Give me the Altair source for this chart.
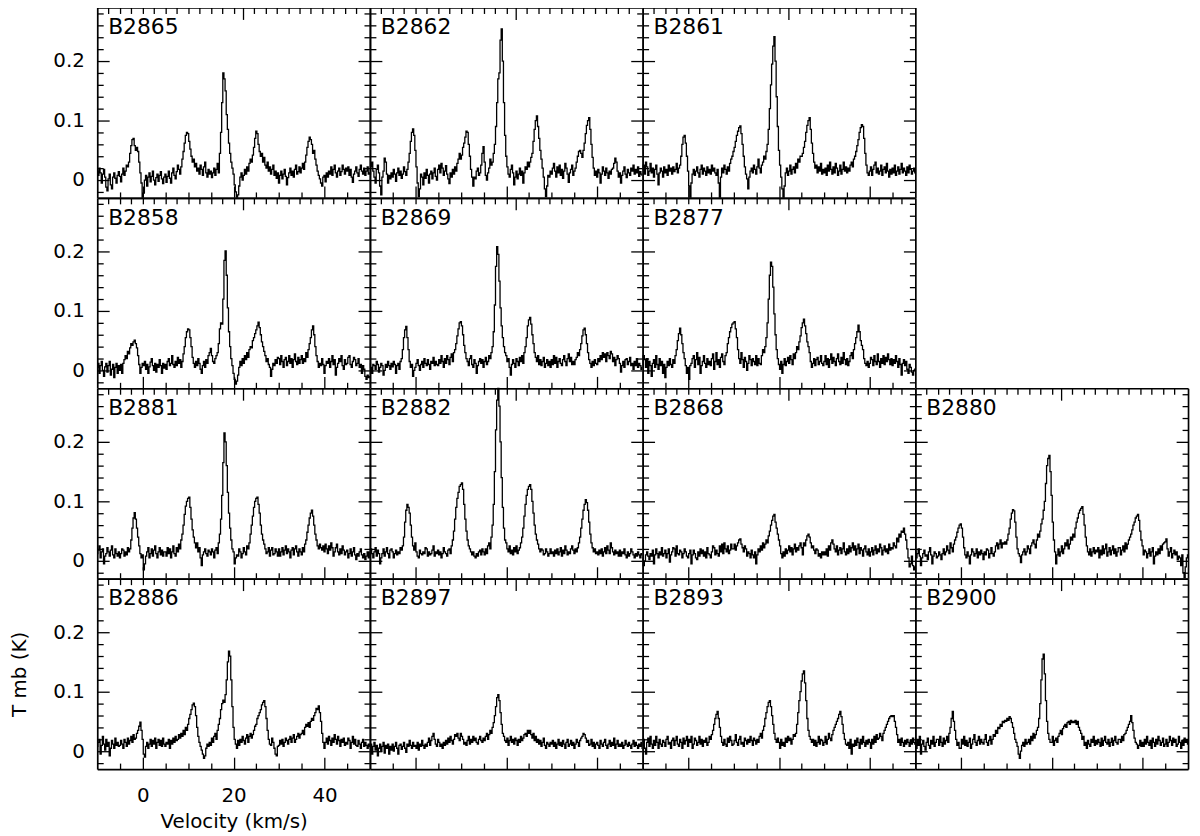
import altair as alt
import pandas as pd

# ---------------- layout of the panels ----------------
PANEL_ROWS = [
    ["B2865", "B2862", "B2861", None],
    ["B2858", "B2869", "B2877", None],
    ["B2881", "B2882", "B2868", "B2880"],
    ["B2886", "B2897", "B2893", "B2900"],
]

# channel grid (km/s): first channel and channel width
V_START = -10.0
V_STEP = 0.25

X_DOMAIN = [-10, 50]
Y_DOMAIN = [-0.03, 0.29]
X_MAJOR = [0, 20, 40]
X_MINOR = [-5, 5, 10, 15, 25, 30, 35, 45]
TOP_MAJOR = [22]
TOP_MINOR = [-7.5, -5, -2.5, 0, 2.5, 5, 7.5, 10, 12.5, 15, 17.5, 20, 24.5, 27, 29.5, 32,
             34.5, 37, 39.5, 42, 44.5, 47]
Y_MAJOR = [0, 0.1, 0.2]
Y_MINOR = [-0.02, 0.02, 0.04, 0.06, 0.08, 0.12, 0.14, 0.16, 0.18, 0.22, 0.24, 0.26, 0.28]
X_LABELS = [0, 20, 40]

# ---------------- spectra: T_mb in mK, one value per 0.25 km/s channel, -10 .. 50 km/s ----------------
B2865 = [15, 8, 20, 12, -5, 10, 18, 5, -12, -18, 2, 10, -8, -15, 5, 12, 3, -5, 8, 14,
         6, -3, 10, 20, 8, 15, 25, 22, 30, 45, 58, 68, 70, 58, 50, 55, 48, 30, 12, -5,
         -30, -22, 0, 8, -10, 5, 12, -3, 6, 15, 0, -8, 4, 10, -2, 8, 14, 2, -6, 5,
         10, -4, 6, 15, 3, -5, 12, 20, 8, 2, 14, 25, 18, 10, 22, 35, 48, 62, 75, 80,
         78, 65, 52, 40, 30, 35, 22, 28, 15, 20, 10, 25, 18, 8, 22, 30, 12, 5, 18, 10,
         15, 4, 12, 20, 8, 18, 28, 12, 45, 80, 130, 180, 170, 150, 110, 85, 62, 45, 30, 20,
         10, -8, -20, -30, -25, -10, 5, 12, 0, 8, 18, 10, 22, 15, 28, 35, 30, 42, 55, 70,
         82, 78, 60, 48, 40, 45, 30, 38, 25, 20, 30, 15, 22, 10, 18, 25, 8, 15, 3, 12,
         -5, 8, 15, 2, 10, 18, 6, -8, 4, 12, 20, 8, 15, 5, 18, 25, 10, 14, 22, 12,
         20, 28, 18, 30, 42, 55, 65, 72, 68, 60, 45, 50, 35, 25, 15, 8, 2, -5, -10, 5,
         8, -3, 12, 5, 15, 10, 22, 8, 18, 25, 12, 5, 15, 20, 8, 14, 25, 18, 10, 20,
         15, 22, 8, 18, 5, -4, 10, 15, 22, 12, 6, 18, 25, 15, 10, 20, 8, 15, 22, 10,
         12]
B2862 = [10, 22, 30, 15, 5, -5, 18, 25, 12, -10, -25, 5, 15, 37, 30, 10, -5, 8, 2, 12,
         5, 18, 10, -2, 12, 20, 8, 15, 3, 10, 22, 14, 8, 18, 30, 45, 65, 80, 86, 75,
         50, 22, -5, -28, -15, 10, 5, -8, 12, 3, 18, 8, -5, 10, 15, 2, 12, 20, 6, 0,
         18, 25, 12, 28, 20, 8, 15, 24, 10, 2, -6, 12, 5, 18, 10, 22, 15, 28, 35, 45,
         35, 42, 55, 62, 72, 82, 80, 60, 40, 18, 5, -10, 5, 2, 15, 20, 8, 12, 25, 45,
         56, 30, 8, 0, 12, 20, 35, 25, 30, 45, 60, 90, 130, 170, 180, 235, 254, 200, 130, 75,
         40, 22, 10, 5, 18, 25, 12, -8, 5, 15, 2, 10, 20, 8, 15, -5, 12, 22, 18, 30,
         22, 30, 38, 45, 65, 85, 100, 108, 90, 70, 50, 35, 20, 5, -15, -28, -10, 8, 5, 15,
         10, 20, 28, 15, 5, 22, 12, 25, 8, 18, 3, 15, 28, 20, 10, -4, 12, 18, 25, 8,
         15, 20, 30, 40, 48, 50, 45, 38, 50, 62, 78, 92, 100, 105, 85, 60, 38, 20, 8, 15,
         5, 18, 12, -5, 10, 22, 15, 8, 20, 12, 3, 15, 10, 18, 20, 28, 37, 30, 15, 5,
         12, -5, 8, 15, 22, 10, 4, 18, 12, 8, 20, 15, 25, 10, 18, 12, 22, 6, 14, 10,
         8]
B2861 = [18, 25, 10, 30, 22, 8, 15, 28, 12, 20, 5, 18, 25, 10, -8, 12, 20, 15, 5, 22,
         12, 18, 8, 25, 15, 20, 10, 22, 14, 18, 28, 12, 20, 25, 40, 60, 72, 75, 62, 40,
         15, -10, -30, -5, 10, 18, 8, 15, 22, 12, 5, 18, 25, 10, 20, 15, 8, 22, 12, 18,
         10, 25, 15, 20, 12, 8, 18, -5, -30, 5, 20, 12, 25, 18, 10, 22, 15, 28, 35, 40,
         48, 55, 65, 75, 82, 88, 91, 78, 60, 40, 22, 10, 2, -15, 5, 15, 20, 12, 25, 18,
         10, 22, 35, 20, 12, 25, 30, 40, 35, 48, 60, 85, 120, 160, 195, 225, 241, 200, 140, 90,
         50, 25, 5, -15, -30, -10, 12, 20, 8, 15, 25, 10, 18, 22, 12, 28, 20, 35, 30, 40,
         40, 45, 55, 65, 80, 92, 100, 105, 85, 62, 45, 30, 20, 25, 12, 22, 15, 28, 10, 18,
         12, 20, 8, 25, 15, 30, 18, 10, 22, 12, 28, 20, 8, 15, 25, 10, 18, 30, 15, 22,
         12, 20, 15, 25, 30, 22, 35, 40, 48, 58, 68, 80, 88, 93, 90, 70, 45, 25, 12, 8,
         15, 22, 8, 18, 25, 30, 12, 20, 10, 15, 25, 8, 18, 22, 12, 28, 15, 5, 18, 10,
         20, 12, 25, 8, 15, 22, 10, 18, 28, 12, 20, 15, 8, 22, 12, 25, 18, 10, 15, 20,
         12]
B2858 = [5, 12, -5, 8, 15, 0, -10, 6, 12, -3, 8, 15, -8, 2, 10, -12, 5, 12, -5, 8,
         0, 10, -5, 12, 18, 25, 20, 32, 28, 38, 45, 42, 48, 51, 45, 38, 25, 10, -5, 5,
         12, 8, 15, 2, 10, -5, 6, 14, 20, 8, 0, 12, -3, 10, 5, 18, 8, -5, 12, 4,
         10, 2, 15, 20, 8, 12, 25, 10, 5, 15, 8, 22, 12, 18, 5, 15, 28, 40, 55, 65,
         70, 68, 55, 40, 22, 12, 5, 15, 8, 20, 12, 2, -5, 8, 15, 5, 18, 12, 25, 30,
         37, 25, 15, 12, 20, 25, 30, 45, 70, 80, 78, 120, 185, 201, 160, 105, 65, 40, 20, 8,
         -5, -15, -23, -18, -8, 5, 15, 8, 20, 12, 25, 18, 30, 22, 35, 40, 38, 50, 55, 62,
         68, 75, 81, 72, 60, 48, 40, 32, 25, 15, 20, 10, 5, -10, 2, 12, 8, 18, 12, 22,
         20, 10, 25, 15, 5, 18, 22, 8, 15, 25, 12, 20, 5, 18, 28, 15, 10, 22, 12, 18,
         25, 12, 20, 15, 30, 22, 35, 45, 55, 68, 75, 60, 40, 25, 15, 5, 12, 8, 20, 10,
         -5, 8, 15, 12, 20, 5, 15, 25, 10, 18, -8, 5, 12, 20, 15, 25, 8, 2, 18, 10,
         12, 22, 25, 10, 5, 15, 22, 18, 8, 12, 20, 5, 10, -5, 8, 2, -10, -15, -8, -12,
         -10]
B2869 = [12, 5, -5, 10, 8, 2, 15, 10, -3, 5, 12, 8, -8, 0, 10, 5, 15, 8, 2, 12,
         6, 15, 10, -5, 8, 12, 2, 15, 20, 35, 55, 68, 74, 55, 35, 15, 5, 10, -10, 0,
         5, 12, 18, 8, 0, 10, 15, 5, 20, 12, 8, 18, 10, 2, 15, 12, 22, 8, 15, 10,
         8, 18, 12, 25, 15, 5, 20, 12, 25, 18, 10, 22, 28, 15, 30, 35, 45, 58, 70, 80,
         82, 75, 60, 42, 30, 20, 15, 8, 20, 25, 10, 5, 18, 12, -5, 8, 15, 20, 12, 18,
         5, 15, 22, 10, 15, 25, 20, 30, 40, 65, 110, 175, 208, 195, 150, 105, 75, 55, 40, 30,
         25, 15, 20, 5, -8, 10, 18, 12, 5, 20, 15, 8, 22, 15, 25, 12, 30, 40, 55, 75,
         85, 89, 78, 60, 45, 30, 22, 15, 25, 10, 18, 8, 15, 22, 5, 12, 18, 8, 15, 5,
         18, 10, 25, 12, 22, 5, 15, 20, 12, 8, 18, 25, 15, 8, 20, 28, 15, 22, 10, 15,
         10, 18, 22, 30, 25, 35, 45, 58, 68, 71, 60, 45, 30, 18, 12, 5, 15, 8, 18, 12,
         10, 20, 15, 25, 18, 30, 22, 28, 15, 30, 25, 20, 32, 28, 15, 22, 8, 18, 25, 20,
         12, -3, 8, 15, 5, 18, 20, 10, 15, 22, 8, 12, 2, 15, 8, 20, 5, 12, 8, 2,
         5]
B2877 = [10, 25, 18, 5, 20, -5, 15, 8, -10, 12, 18, 5, 25, 10, 2, 20, 8, 15, -5, 10,
         -12, 5, 15, 8, 20, 10, 5, 18, 12, 25, 35, 50, 62, 71, 60, 45, 30, 20, 8, -5,
         5, -15, 8, 12, 20, 25, 5, 18, 30, 10, 22, -5, 8, 15, 25, 12, 5, 20, 10, 15,
         8, 20, 28, 2, 15, 30, 10, 18, 5, 22, 28, 15, 10, 25, 30, 45, 55, 65, 72, 78,
         80, 82, 70, 55, 35, 20, 12, 30, 18, 5, 22, 15, 0, 12, 25, 18, 8, 20, 15, 10,
         25, 8, 20, 12, 10, 25, 35, 30, 40, 55, 80, 120, 160, 182, 175, 140, 95, 60, 35, 20,
         10, 2, 15, -5, 10, 20, 8, 15, 22, 12, 25, 18, 10, 28, 20, 30, 40, 35, 48, 58,
         72, 80, 86, 75, 62, 48, 40, 30, 15, 5, 12, 20, 8, 18, 22, 10, 15, 25, 12, 8,
         15, 25, 10, 20, 5, 18, 28, 12, 22, 15, 8, 20, 28, 15, 10, 22, 12, 30, 18, 10,
         20, 8, 15, 25, 30, 20, 35, 45, 55, 65, 76, 65, 50, 42, 35, 20, 12, 8, 15, 5,
         12, 22, 18, 8, 25, 15, 10, 28, 15, 5, 20, 12, 25, 10, 22, 15, 28, 18, 10, 20,
         8, 18, 12, 25, 15, 5, 20, 10, -8, 12, 18, 8, 15, 2, -5, 10, 5, -3, -8, 0,
         2]
B2881 = [12, 18, 25, 5, 15, 20, -5, 8, 12, 22, 15, 8, 18, 25, 10, 5, 20, 12, 8, 15,
         5, 12, 20, 18, 8, 15, 10, 22, 15, 20, 35, 55, 72, 81, 70, 55, 40, 25, 12, 5,
         10, -15, -5, 8, 15, 22, 5, 12, 20, 8, 18, 25, 12, 5, 15, 22, 10, 18, 8, 15,
         15, 8, 22, 12, 20, 5, 15, 25, 12, 8, 22, 15, 28, 20, 35, 45, 60, 78, 92, 100,
         105, 107, 90, 70, 52, 40, 30, 22, 30, 15, 22, 5, -8, 10, 15, 20, 12, 8, 18, 15,
         10, 20, 15, 5, 18, 22, 12, 30, 45, 70, 110, 165, 215, 200, 160, 115, 80, 55, 35, 20,
         15, -5, 5, 10, 8, 20, 15, 5, 12, 22, 15, 10, 25, 20, 30, 45, 60, 75, 90, 100,
         105, 107, 95, 80, 60, 45, 35, 28, 20, 12, 15, 22, 8, 18, 22, 10, 12, 20, 15, 8,
         20, 8, 15, 22, 10, 18, 25, 12, 20, 15, 5, 18, 22, 10, 20, 25, 15, 8, 20, 15,
         10, 22, 15, 28, 35, 48, 60, 72, 80, 85, 75, 60, 45, 35, 25, 20, 28, 22, 18, 25,
         15, 28, 20, 12, 25, 18, 30, 22, 8, 15, 22, 28, 15, 10, 20, 12, 25, 18, 10, 15,
         18, 5, 12, 20, 8, 15, 22, 10, 2, 12, 8, 15, 20, 10, 5, 12, 2, 8, 15, 5,
         15]
B2882 = [10, 20, 12, 5, 15, 22, 8, 18, 12, -5, 5, 12, 20, 8, 15, 22, 12, 5, 18, 20,
         15, 5, 12, 18, 10, 15, 12, 22, 18, 25, 40, 65, 85, 95, 90, 80, 60, 40, 25, 18,
         30, 15, 8, 5, 18, 12, 10, 15, 12, 22, 20, 8, 15, 10, 12, 18, 25, 8, 15, 12,
         18, 10, 15, 5, 12, 22, 15, 12, 8, 18, 20, 12, 25, 35, 50, 70, 90, 105, 115, 125,
         128, 131, 120, 95, 70, 50, 35, 25, 20, 15, 10, 15, 8, 5, 12, 8, 15, 18, 10, 20,
         15, 10, 20, 12, 25, 30, 20, 40, 60, 95, 150, 220, 270, 290, 260, 200, 140, 90, 55, 35,
         30, 20, 15, 25, 12, 18, 10, 22, 15, 25, 12, 18, 22, 30, 40, 55, 75, 95, 110, 120,
         125, 128, 120, 100, 80, 60, 45, 35, 28, 20, 15, 20, 18, 10, 12, 20, 15, 8, 12, 20,
         12, 15, 8, 18, 12, 20, 10, 15, 22, 8, 18, 12, 25, 18, 10, 15, 12, 20, 25, 18,
         12, 20, 15, 22, 30, 40, 55, 70, 85, 95, 103, 98, 85, 65, 45, 30, 22, 15, 20, 12,
         15, 10, 18, 12, 20, 8, 15, 22, 12, 25, 18, 12, 30, 22, 15, 10, 18, 12, 15, 8,
         18, 8, 15, 12, 20, 10, 5, 15, 8, 12, 20, 15, 10, 5, 12, 8, 15, 10, 5, 12,
         10]
B2868 = [5, -8, 0, 10, 15, 8, 2, 12, 8, 18, -5, 10, 20, 12, 5, 15, 10, 22, 8, 12,
         18, 5, 12, 20, -2, 10, 15, 22, 20, 8, 25, 12, 10, 18, 15, 5, 12, 20, 15, 8,
         5, 12, 18, -5, 10, 18, 12, 5, 2, 15, 8, 20, 12, 18, 8, 15, 5, 22, 12, 10,
         5, 15, 25, 22, 10, 18, 12, 8, 25, 15, 28, 12, 30, 20, 15, 25, 12, 18, 28, 20,
         20, 28, 18, 25, 30, 35, 37, 28, 22, 15, 25, 20, 8, 15, 12, 5, 18, 10, 5, 15,
         -5, 10, 20, 15, 25, 18, 30, 22, 28, 35, 30, 42, 50, 60, 68, 75, 78, 65, 55, 45,
         35, 25, 12, 5, 15, 8, 20, 12, 18, 25, 15, 22, 10, 20, 28, 15, 22, 18, 25, 30,
         22, 10, 30, 25, 35, 42, 45, 40, 30, 22, 25, 18, 12, 20, 18, 8, 12, 5, 15, 10,
         15, 10, 20, 8, 25, 18, 30, 35, 28, 20, 15, 25, 10, 18, 22, 12, 20, 30, 15, 10,
         20, 12, 25, 15, 22, 30, 18, 25, 10, 20, 28, 12, 22, 18, 8, 20, 25, 15, 10, 20,
         8, 15, 22, 10, 18, 25, 12, 20, 15, 28, 22, 10, 18, 25, 15, 20, 12, 28, 18, 22,
         20, 30, 25, 22, 38, 32, 45, 40, 50, 48, 55, 45, 35, 20, 5, -10, -5, 8, -8, -15,
         -10]
B2880 = [15, 5, 12, 20, 8, -8, 5, 12, 18, 8, 10, 2, 15, 22, 10, -5, 8, 15, 12, 5,
         8, 15, 10, 2, 12, 20, 10, 15, 25, 18, 12, 30, 22, 15, 28, 35, 40, 48, 55, 60,
         62, 55, 40, 22, 10, 5, 15, 8, -5, 10, 20, 15, 8, 12, 20, 5, 15, 10, 18, 12,
         2, 15, 10, 20, 18, 5, 12, 22, 12, 8, 15, 25, 30, 20, 28, 35, 22, 30, 28, 32,
         28, 35, 45, 55, 70, 80, 86, 84, 65, 40, 20, 12, 8, -3, 10, 15, 20, 10, 15, 25,
         20, 12, 25, 30, 35, 28, 22, 35, 45, 40, 50, 62, 70, 85, 100, 130, 160, 172, 177, 150,
         110, 65, 35, 15, -5, 10, 20, 8, 15, 25, 12, 20, 30, 25, 35, 20, 28, 40, 35, 45,
         40, 55, 65, 72, 80, 85, 88, 91, 78, 60, 40, 25, 15, 10, 20, 8, 15, 22, 12, 18,
         15, 22, 5, 18, 10, 25, 12, 20, 28, 8, 15, 22, 10, 18, 25, 12, 20, 8, 15, 22,
         22, 10, 18, 25, 15, 30, 20, 28, 35, 40, 45, 52, 60, 65, 72, 75, 78, 68, 50, 35,
         25, 10, 18, 15, 5, 12, 20, 8, 15, 22, -5, 8, 15, 10, 20, 12, 25, 18, 28, 30,
         32, 37, 20, 8, 15, 22, 5, 12, 18, 10, 15, 2, 8, 5, -8, 10, -20, -28, -10, 5,
         10]
B2886 = [8, 15, 20, -5, 10, 25, 12, 2, 20, 8, 15, -8, 5, 18, 12, 5, 22, 10, 15, 8,
         10, 18, 12, 5, 20, 15, 8, 22, 12, 18, 25, 15, 28, 20, 22, 30, 35, 42, 49, 35,
         20, -5, -10, 8, 15, 5, 12, 20, 8, 18, 12, 22, 5, 15, 20, 10, 18, 8, 22, 12,
         8, 15, 12, 20, 5, 18, 12, 22, 15, 25, 18, 20, 28, 22, 30, 25, 35, 28, 40, 35,
         45, 55, 62, 70, 78, 81, 75, 60, 40, 25, 15, 8, 2, -5, -12, -8, 5, 12, 8, 15,
         10, 22, 15, 25, 30, 20, 35, 45, 55, 70, 80, 86, 82, 95, 120, 150, 168, 160, 120, 75,
         40, 20, 12, 5, 18, 10, 20, 15, 25, 18, 12, 22, 28, 15, 25, 30, 22, 28, 35, 42,
         45, 55, 60, 65, 70, 78, 82, 85, 75, 55, 35, 20, 12, 10, 22, 15, 5, -5, -8, 8,
         10, 18, 12, 20, 8, 15, 22, 18, 12, 20, 25, 15, 22, 28, 15, 20, 25, 30, 22, 28,
         30, 35, 28, 40, 45, 42, 48, 40, 50, 55, 52, 60, 65, 72, 70, 76, 65, 50, 30, 15,
         5, 15, 22, 12, 25, 18, 10, 22, 15, 28, 20, 12, 25, 18, 8, 20, 15, 22, 10, 15,
         12, 22, 18, 5, 15, 25, 12, 20, 10, 8, 18, 12, 5, 15, 20, 8, 15, 10, 5, 12,
         8]
B2897 = [5, 12, -5, 8, 15, 2, 10, -8, 5, 12, 0, 8, 15, -3, 10, 5, 12, -5, 8, 2,
         12, 0, 8, 15, 5, -5, 10, 12, 3, 8, 15, 5, -2, 12, 8, 18, 10, 5, 15, 8,
         10, 5, 15, 2, 12, 8, 18, 10, 5, 12, 8, 15, 22, 10, 18, 25, 30, 20, 12, 8,
         20, 15, 8, 12, 5, 15, 10, 18, 12, 22, 15, 25, 18, 12, 20, 28, 25, 30, 22, 18,
         30, 25, 20, 12, 15, 10, 18, 25, 12, 20, 15, 25, 18, 22, 15, 12, 20, 25, 18, 15,
         22, 18, 25, 30, 20, 28, 35, 30, 40, 48, 60, 75, 90, 95, 85, 65, 45, 30, 25, 18,
         15, 22, 10, 18, 25, 15, 20, 12, 22, 18, 10, 20, 15, 25, 18, 22, 28, 30, 25, 35,
         30, 35, 28, 22, 30, 18, 25, 15, 20, 12, 18, 8, 15, 22, 10, 5, 15, 12, 8, 15,
         12, 18, 8, 15, 5, 12, 20, 10, 15, 8, 18, 12, 5, 15, 20, 8, 12, 18, 10, 15,
         5, 12, 20, 15, 8, 18, 22, 25, 30, 28, 22, 15, 18, 10, 12, 20, 8, 15, 5, 12,
         15, 10, 5, 18, 12, 8, 15, 20, 10, 5, 12, 18, 8, 15, 10, 22, 5, 12, 18, 8,
         12, 8, 15, 5, 10, 18, 12, 8, 15, 10, 5, 12, 18, 8, 15, 10, 5, 12, 8, 15,
         5]
B2893 = [10, 20, 5, -5, 15, 22, 8, 25, 12, 5, 18, 10, 25, 15, 5, 20, 12, 8, 18, 15,
         8, 20, 25, 12, 15, 5, 18, 22, 10, 18, 25, 12, 8, 20, 15, 5, 22, 12, 18, 25,
         8, 20, 15, 25, 5, 12, 22, 18, 10, 15, 25, 12, 20, 8, 18, 15, 22, 10, 15, 25,
         20, 28, 35, 45, 55, 62, 67, 55, 40, 25, 15, 10, 20, 12, 8, 22, 15, 25, 18, 10,
         12, 18, 28, 15, 10, 20, 25, 12, 15, 8, 22, 18, 12, 20, 15, 25, 18, 10, 22, 18,
         12, 20, 15, 25, 30, 22, 35, 42, 55, 65, 75, 82, 85, 75, 60, 45, 30, 20, 15, 22,
         15, 5, 20, 10, 15, 8, 22, 15, 25, 18, 22, 12, 20, 28, 25, 30, 45, 65, 85, 100,
         118, 130, 135, 115, 85, 55, 35, 25, 20, 15, 20, 10, 18, 8, 15, 25, 12, 20, 18, 10,
         15, 25, 12, 20, 30, 22, 18, 28, 35, 40, 45, 50, 55, 62, 67, 58, 45, 30, 20, 12,
         10, 15, 5, 20, -5, 12, 8, 18, 10, 22, 15, 5, 20, 12, 25, 15, 8, 18, 12, 20,
         15, 5, 20, 12, 25, 15, 28, 20, 22, 30, 25, 18, 30, 35, 40, 45, 50, 55, 58, 60,
         58, 60, 50, 40, 28, 15, 20, 10, 22, 15, 8, 18, 12, 20, 15, 8, 18, 12, 22, 15,
         12]
B2900 = [15, 5, 20, 10, 25, -5, 12, 18, 8, 2, 15, 22, 10, 5, 18, 12, 25, 8, 15, 20,
         20, 10, 25, 15, 8, 22, 12, 18, 25, 15, 30, 40, 55, 67, 50, 35, 20, 10, 15, 5,
         5, 20, 12, 25, 10, 18, 8, 15, 22, 5, 12, 20, 28, 15, 10, 18, 25, 12, 20, 15,
         12, 20, 28, 15, 10, 18, 25, 12, 20, 28, 25, 35, 30, 40, 38, 45, 42, 50, 48, 52,
         50, 55, 52, 58, 55, 48, 40, 30, 20, 15, 8, -5, -12, 0, 10, 15, 8, 20, 12, 15,
         20, 12, 25, 18, 30, 22, 28, 35, 40, 55, 80, 120, 155, 163, 130, 85, 50, 30, 20, 15,
         15, 25, 10, 18, 22, 15, 25, 30, 35, 28, 38, 42, 45, 40, 48, 50, 45, 52, 48, 50,
         48, 52, 45, 50, 40, 35, 30, 20, 25, 10, 15, 5, 18, 12, 8, 20, 15, 25, 10, 18,
         12, 20, 15, 8, 22, 10, 18, 25, 15, 12, 20, 8, 15, 22, 10, 18, 25, 15, 12, 20,
         20, 15, 25, 18, 28, 30, 35, 40, 45, 50, 60, 48, 35, 22, 15, 12, 5, 10, 18, 8,
         15, 8, 20, 12, 25, 15, 10, 18, 5, 22, 15, 8, 20, 12, 25, 18, 10, 15, 22, 8,
         12, 20, 8, 15, 25, 18, 10, 22, 15, 20, 8, 12, 25, 15, 5, 18, 10, 22, 15, 20,
         12]

SPECTRA = {
    "B2865": B2865, "B2862": B2862, "B2861": B2861,
    "B2858": B2858, "B2869": B2869, "B2877": B2877,
    "B2881": B2881, "B2882": B2882, "B2868": B2868, "B2880": B2880,
    "B2886": B2886, "B2897": B2897, "B2893": B2893, "B2900": B2900,
}

records = []
for name, vals in SPECTRA.items():
    for i, t in enumerate(vals):
        records.append({"name": name, "v": V_START + V_STEP * i, "T": t / 1000.0})
df = pd.DataFrame(records)

# ---------------- geometry / style ----------------
W, H = 275, 192
FONT = "DejaVu Sans"
MAJ, MINL = 12, 6
TICKW = 1.3
FRAMEW = 1.7

xs = alt.Scale(domain=X_DOMAIN, nice=False, zero=False)
ys = alt.Scale(domain=Y_DOMAIN, nice=False, zero=False)


def tick_axis(orient, offset, values, size, frame=False):
    kw = dict(orient=orient, offset=offset, values=values, tickSize=size,
              ticks=True, labels=False, grid=False, title=None,
              tickColor="black", tickWidth=TICKW)
    if frame:
        kw.update(domain=True, domainColor="black", domainWidth=FRAMEW)
    else:
        kw.update(domain=False)
    return alt.Axis(**kw)


def panel(name, left_labels, bottom_labels, ytitle):
    base = alt.Chart(df).transform_filter(alt.datum.name == name)

    def X(ax):
        return alt.X("v:Q", scale=xs, axis=ax)

    def Y(ax):
        return alt.Y("T:Q", scale=ys, axis=ax)

    line = base.mark_line(interpolate="step", color="black", strokeWidth=1.3).encode(
        x=X(tick_axis("top", -H, X_MAJOR, MAJ, frame=True)),
        y=Y(tick_axis("right", -W, Y_MAJOR, MAJ, frame=True)))
    l2 = base.mark_line(strokeOpacity=0).encode(
        x=X(tick_axis("top", -H, X_MINOR, MINL)),
        y=Y(tick_axis("right", -W, Y_MINOR, MINL)))
    l3 = base.mark_line(strokeOpacity=0).encode(
        x=X(tick_axis("bottom", -H, TOP_MAJOR, MAJ, frame=True)),
        y=Y(tick_axis("left", -W, Y_MAJOR, MAJ, frame=True)))
    l4 = base.mark_line(strokeOpacity=0).encode(
        x=X(tick_axis("bottom", -H, TOP_MINOR, MINL)),
        y=Y(tick_axis("left", -W, Y_MINOR, MINL)))
    layers = [line, l2, l3, l4]

    if left_labels or bottom_labels:
        xa = None
        ya = None
        if bottom_labels:
            xa = alt.Axis(orient="bottom", values=X_LABELS, ticks=False, tickSize=0,
                          domain=False, grid=False, labelPadding=17, labelFontSize=20,
                          labelFont=FONT, labelColor="black",
                          title="Velocity (km/s)", titleFontSize=20, titleFont=FONT,
                          titleFontWeight="normal", titleColor="black", titlePadding=6)
        if left_labels:
            ya = alt.Axis(orient="left", values=Y_MAJOR, format="~g", ticks=False,
                          tickSize=0, domain=False, grid=False, labelPadding=13,
                          labelFontSize=20, labelFont=FONT, labelColor="black",
                          title="T mb (K)", titleOpacity=1 if ytitle else 0,
                          titleFontSize=20, titleFont=FONT, titleFontWeight="normal",
                          titleColor="black", titlePadding=24)
        lab = base.mark_line(strokeOpacity=0).encode(x=X(xa), y=Y(ya))
        layers.append(lab)

    txt = alt.Chart(pd.DataFrame({"name": [name]})).mark_text(
        align="left", baseline="alphabetic", font=FONT, fontSize=22, color="black"
    ).encode(x=alt.value(11), y=alt.value(27), text="name:N")
    layers.append(txt)

    return alt.layer(*layers).resolve_axis(x="independent", y="independent").properties(
        width=W, height=H)


def blank():
    return alt.Chart(pd.DataFrame({"name": [""]})).mark_text(opacity=0).encode(
        text="name:N").properties(width=W, height=H,
                                  view=alt.ViewConfig(strokeOpacity=0))


cells = []
nrows = len(PANEL_ROWS)
for r, names in enumerate(PANEL_ROWS):
    for c, nm in enumerate(names):
        if nm is None:
            cells.append(blank())
        else:
            cells.append(panel(nm, left_labels=(c == 0),
                               bottom_labels=(r == nrows - 1 and c == 0),
                               ytitle=(r == nrows - 1 and c == 0)))

chart = alt.concat(*cells, columns=4, spacing=0, bounds="flush").properties(
    padding={"left": 0, "top": -6, "right": 0, "bottom": 0}
).configure_view(strokeOpacity=0).configure(background="white")

chart.save("out.html", embed_options={"renderer": "svg", "actions": False})
